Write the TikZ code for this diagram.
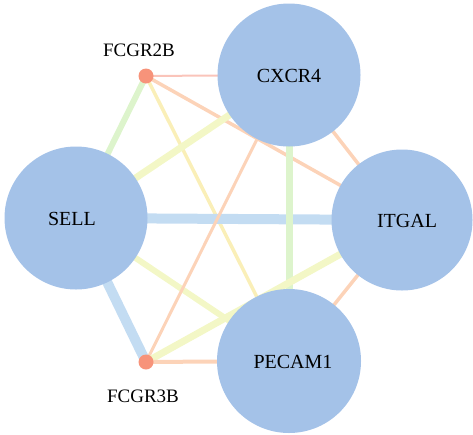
\documentclass[tikz,border=0pt]{standalone}
\usepackage{fontspec}
\setmainfont{Liberation Serif}
\definecolor{nodeblue}{HTML}{A4C2E8}
\definecolor{dotred}{HTML}{F7937A}
\definecolor{egreen}{HTML}{DDF4CC}
\definecolor{eblue}{HTML}{C3DCF2}
\definecolor{eorange}{HTML}{FCD3B8}
\definecolor{epink}{HTML}{FAC4BA}
\definecolor{eyellow}{HTML}{FAEFB8}
\definecolor{eyg}{HTML}{F3F7C6}
\begin{document}
\begin{tikzpicture}[x=1pt,y=-1pt,
  big/.style={circle,fill=nodeblue,minimum size=144pt,inner sep=0pt,font=\fontsize{20}{22}\selectfont},
  small/.style={circle,fill=dotred,minimum size=15pt,inner sep=0pt},
  lab/.style={font=\fontsize{19}{21}\selectfont,inner sep=0pt},
  edge/.style={line cap=butt}]
\useasboundingbox (0,0) rectangle (473,434);
% node positions
\coordinate (cx) at (289,75);
\coordinate (se) at (76,218);
\coordinate (it) at (402,220);
\coordinate (pe) at (289,361);
\coordinate (f2) at (146,76);
\coordinate (f3) at (146,362);
% edges
\draw[edge,epink,line width=2pt] (f2) -- (cx);
\draw[edge,eorange,line width=3.5pt] (f2) -- (it);
\draw[edge,egreen,line width=6pt] (f2) -- (se);
\draw[edge,eyellow,line width=3.5pt] (f2) -- (pe);
\draw[edge,eyg,line width=7pt] (se) -- (cx);
\draw[edge,eblue,line width=10pt] (se) -- (it);
\draw[edge,eyg,line width=6pt] (se) -- (pe);
\draw[edge,eblue,line width=10pt] (se) -- (f3);
\draw[edge,egreen,line width=7pt] (cx) -- (pe);
\draw[edge,eorange,line width=3.5pt] (cx) -- (it);
\draw[edge,eorange,line width=3pt] (cx) -- (f3);
\draw[edge,eorange,line width=3.5pt] (it) -- (pe);
\draw[edge,eyg,line width=7pt] (it) -- (f3);
\draw[edge,eorange,line width=4pt] (pe) -- (f3);
% nodes
\node[big,minimum size=143pt] (CXCR4) at (cx) {};
\node[big,minimum size=143pt] (SELL) at (se) {};
\node[big,minimum size=141pt] (ITGAL) at (it) {};
\node[big,minimum size=144pt] (PECAM1) at (pe) {};
\node[small] (FCGR2B) at (f2) {};
\node[small] (FCGR3B) at (f3) {};
\node[lab,font=\fontsize{20}{22}\selectfont] (tCX) at (289,76) {CXCR4};
\node[lab,font=\fontsize{20}{22}\selectfont] (tSE) at (72,219) {SELL};
\node[lab,font=\fontsize{20}{22}\selectfont] (tIT) at (407,221) {ITGAL};
\node[lab,font=\fontsize{20}{22}\selectfont] (tPE) at (293,362) {PECAM1};
\node[lab] (t2) at (139,50) {FCGR2B};
\node[lab] (t3) at (143,396) {FCGR3B};
\end{tikzpicture}
\end{document}
